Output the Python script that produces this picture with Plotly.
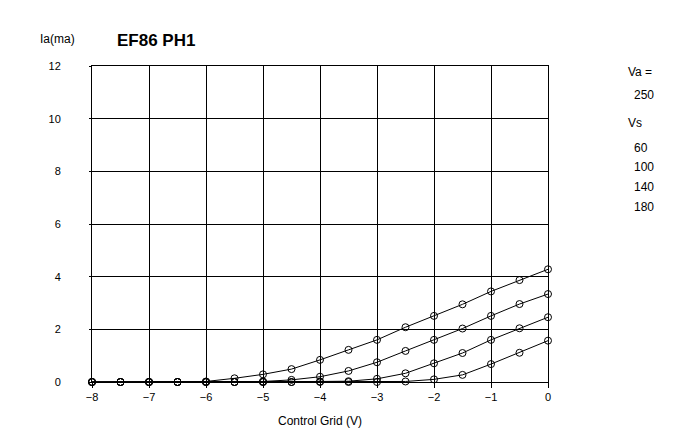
import plotly.graph_objects as go

# grid voltage (V)
grid_v = [-8, -7.5, -7, -6.5, -6, -5.5, -5, -4.5, -4, -3.5, -3, -2.5, -2, -1.5, -1, -0.5, 0]

# anode current (mA) for each screen voltage
ia_vs180 = [0, 0, 0, 0, 0.02, 0.14, 0.29, 0.49, 0.84, 1.22, 1.60, 2.08, 2.51, 2.95, 3.44, 3.87, 4.28]
ia_vs140 = [0, 0, 0, 0, 0, 0, 0.02, 0.08, 0.20, 0.42, 0.75, 1.18, 1.60, 2.03, 2.51, 2.96, 3.34]
ia_vs100 = [0, 0, 0, 0, 0, 0, 0, 0, 0.02, 0.03, 0.12, 0.33, 0.71, 1.10, 1.60, 2.04, 2.46]
ia_vs60 = [0, 0, 0, 0, 0, 0, 0, 0, 0, 0, 0, 0.02, 0.10, 0.27, 0.68, 1.11, 1.57]

series = {"180": ia_vs180, "140": ia_vs140, "100": ia_vs100, "60": ia_vs60}

# right-hand key: text and its pixel row in the original picture
key_text = ["Va =", "250", "Vs", "60", "100", "140", "180"]
key_rows = [72, 95, 123, 148, 167, 187, 207]

font = "Liberation Sans, Arial, sans-serif"

# plot area in page pixels (the page body adds an 8px offset)
L, T, W, H = 92, 66, 456, 316

fig = go.Figure()
for vs, ia in series.items():
    fig.add_trace(go.Scatter(
        x=grid_v, y=ia, mode="lines+markers", name="Vs " + vs,
        line=dict(color="black", width=1),
        marker=dict(symbol="circle-open", size=7, color="black", line=dict(width=1)),
        cliponaxis=False, showlegend=False,
    ))

axis_common = dict(
    showline=True, linecolor="black", linewidth=1, mirror=True,
    showgrid=True, gridcolor="black", gridwidth=1,
    zeroline=False, tickfont=dict(family=font, size=11, color="black"),
    tickcolor="black", ticks="outside",
)
fig.update_xaxes(range=[-8, 0], dtick=1, ticklen=5,
                 title=dict(text="Control Grid (V)", font=dict(family=font, size=12, color="black"), standoff=14),
                 **axis_common)
fig.update_yaxes(range=[0, 12], dtick=2, ticklen=2, ticklabelstandoff=26, **axis_common)

fig.add_annotation(text="Ia(ma)", xref="paper", yref="paper", x=(38 - L) / W, y=(382 - 39) / H,
                   xanchor="left", yanchor="middle", showarrow=False,
                   font=dict(family=font, size=12, color="black"))
fig.add_annotation(text="<b>EF86 PH1</b>", xref="paper", yref="paper", x=(115 - L) / W, y=(382 - 40) / H,
                   xanchor="left", yanchor="middle", showarrow=False,
                   font=dict(family=font, size=17, color="black"))

for txt, row in zip(key_text, key_rows):
    xpx = 632 if txt[0].isdigit() else 626
    fig.add_annotation(text=txt, xref="paper", yref="paper",
                       x=(xpx - L) / W, y=(382 - row) / H,
                       xanchor="left", yanchor="middle", showarrow=False,
                       font=dict(family=font, size=12, color="black"))

fig.update_layout(
    width=685, height=447,
    margin=dict(l=L - 8, r=685 - (L - 8) - W, t=T - 8, b=447 - (T - 8) - H),
    paper_bgcolor="white", plot_bgcolor="white",
)

fig.write_html("out.html")
